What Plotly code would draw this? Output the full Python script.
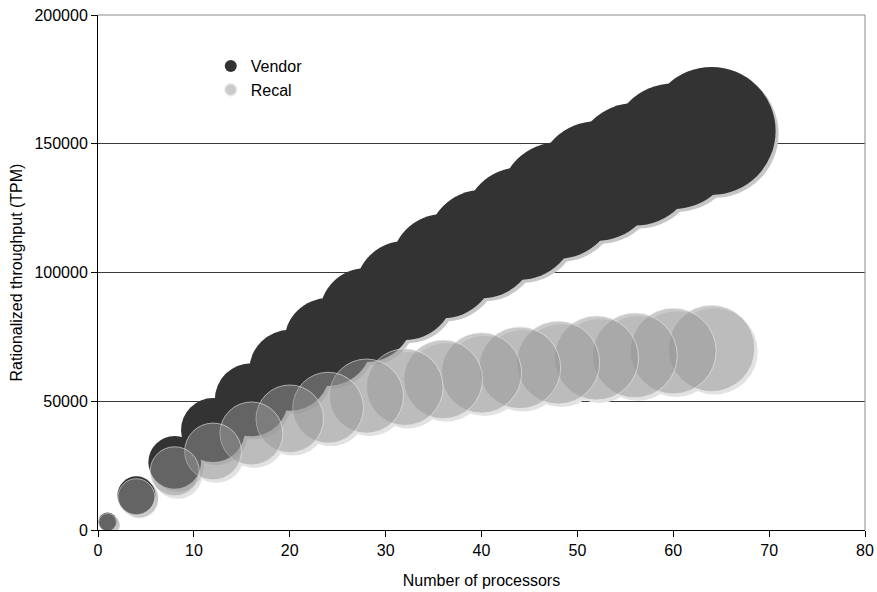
import plotly.graph_objects as go

# Processor counts shared by both series
processors = [1, 4, 8, 12, 16, 20, 24, 28, 32, 36, 40, 44, 48, 52, 56, 60, 64]

# Throughput (TPM) as published by the vendor and as recalculated
vendor_tpm = [3200, 13500, 26300, 38800, 50600, 62000, 73000, 83500, 93000,
              102500, 111000, 119000, 128000, 135500, 142000, 149000, 155000]
recal_tpm = [3000, 12800, 22800, 30500, 37500, 43200, 47500, 52000, 55500,
             58500, 61000, 63000, 65000, 66800, 67800, 69500, 70500]

x_ticks = [0, 10, 20, 30, 40, 50, 60, 70, 80]
y_ticks = [0, 50000, 100000, 150000, 200000]

W, H = 877, 592
M = dict(l=98, r=12, t=15, b=62, autoexpand=False)
plot_w = W - M["l"] - M["r"]
plot_h = H - M["t"] - M["b"]
x_range = [0, 80]
y_range = [0, 200000]

# bubble area proportional to throughput; largest bubble ~128 px across
max_diam = 128
sizeref = 2.0 * max(vendor_tpm) / max_diam ** 2

# drop shadow shifted 3 px right / 3 px down
shadow_px = 3
dx = shadow_px * (x_range[1] - x_range[0]) / plot_w
dy = shadow_px * (y_range[1] - y_range[0]) / plot_h

FONT = "Liberation Sans, Arial, sans-serif"
FS = 16


def rev(a):
    # larger bubbles first so smaller ones sit on top
    return list(reversed(a))


def bubbles(name, xs, ys, color, line=None, showlegend=True, shift=False):
    xs = [v + dx for v in xs] if shift else xs
    ys_pos = [v - dy for v in ys] if shift else ys
    return go.Scatter(
        x=rev(xs), y=rev(ys_pos), name=name, mode="markers",
        showlegend=showlegend, hoverinfo="skip" if shift else None,
        marker=dict(size=rev(ys), sizemode="area", sizeref=sizeref,
                    color=color, opacity=1,
                    line=line or dict(width=0)),
    )


fig = go.Figure()
fig.add_trace(bubbles("Recal shadow", processors, recal_tpm, "#e2e2e2",
                      showlegend=False, shift=True))
fig.add_trace(bubbles("Vendor shadow", processors, vendor_tpm, "#c6c6c6",
                      showlegend=False, shift=True))
fig.add_trace(bubbles("Vendor", processors, vendor_tpm, "#333333"))
fig.add_trace(bubbles("Recal", processors, recal_tpm, "rgba(150,150,150,0.5)",
                      line=dict(width=1, color="rgba(235,235,235,0.6)")))

axis_common = dict(
    ticks="outside", ticklen=6, tickcolor="black", tickwidth=1,
    showline=True, linecolor="black", linewidth=1, zeroline=False,
    automargin=False,
    tickfont=dict(family=FONT, size=FS, color="black"),
)

fig.update_layout(
    width=W, height=H, margin=M,
    paper_bgcolor="white", plot_bgcolor="white",
    font=dict(family=FONT, size=FS, color="black"),
    showlegend=True,
    legend=dict(x=0.147, y=0.934, xanchor="left", yanchor="top",
                bgcolor="rgba(0,0,0,0)", itemsizing="constant",
                font=dict(family=FONT, size=FS, color="black"),
                tracegroupgap=0),
    xaxis=dict(range=x_range, tickvals=x_ticks, showgrid=False,
               title=dict(text="Number of processors",
                          font=dict(family=FONT, size=FS), standoff=16),
               **axis_common),
    yaxis=dict(range=y_range, tickvals=y_ticks, tickformat="d",
               showgrid=True, gridcolor="#3a3a3a", gridwidth=1,
               title=dict(text="Rationalized throughput (TPM)",
                          font=dict(family=FONT, size=FS), standoff=7),
               **axis_common),
    shapes=[
        dict(type="line", xref="paper", yref="paper", x0=0, x1=1, y0=1, y1=1,
             line=dict(color="#8a8a8a", width=1)),
        dict(type="line", xref="paper", yref="paper", x0=1, x1=1, y0=0, y1=1,
             line=dict(color="#8a8a8a", width=1)),
    ],
)

fig.write_html("out.html")
